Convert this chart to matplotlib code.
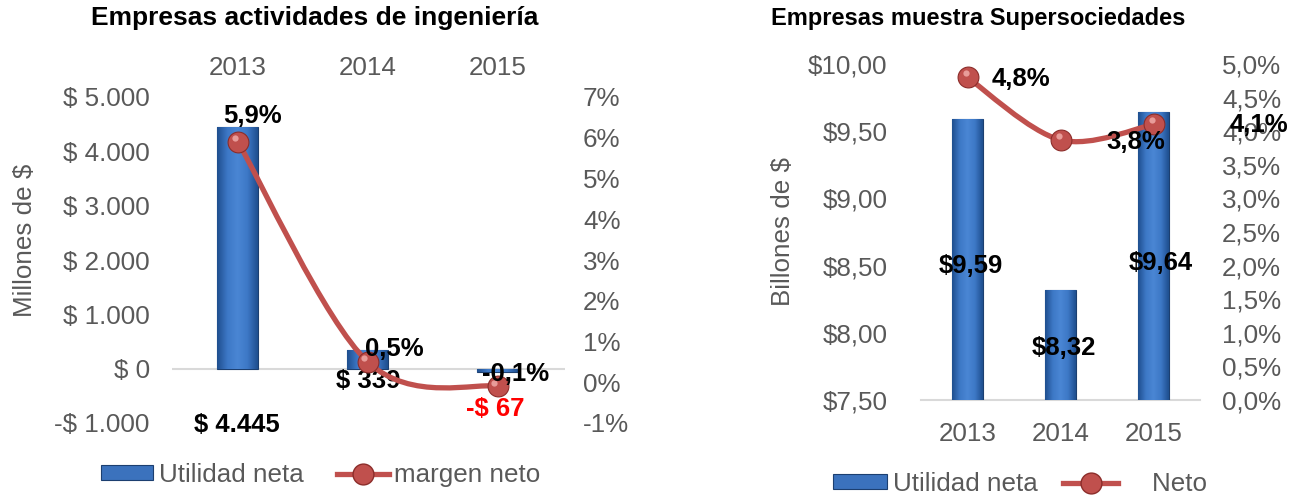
import numpy as np
import matplotlib
matplotlib.use("Agg")
import matplotlib.pyplot as plt
from matplotlib.path import Path
from matplotlib.patches import PathPatch, Rectangle
from matplotlib.lines import Line2D
from matplotlib.colors import LinearSegmentedColormap

plt.rcParams['font.family'] = ['Liberation Sans', 'DejaVu Sans']

# ---------------- data ----------------
years = ["2013", "2014", "2015"]
util_ing = [4445, 339, -67]             # millones de $
margen_ing = [5.9, 0.5, -0.1]            # %
util_ing_labels = ["$ 4.445", "$ 339", "-$ 67"]
margen_ing_labels = ["5,9%", "0,5%", "-0,1%"]

util_sup = [9.59, 8.32, 9.64]            # billones de $
neto_sup = [4.8, 3.87, 4.1]              # %
util_sup_labels = ["$9,59", "$8,32", "$9,64"]
neto_sup_labels = ["4,8%", "3,8%", "4,1%"]

left_ticks = [-1000, 0, 1000, 2000, 3000, 4000, 5000]
left_ticklabels = ["-$ 1.000", "$ 0", "$ 1.000", "$ 2.000", "$ 3.000", "$ 4.000", "$ 5.000"]
left_pct_ticks = [-1, 0, 1, 2, 3, 4, 5, 6, 7]
left_pct_labels = ["-1%", "0%", "1%", "2%", "3%", "4%", "5%", "6%", "7%"]

right_ticks = [7.5, 8.0, 8.5, 9.0, 9.5, 10.0]
right_ticklabels = ["$7,50", "$8,00", "$8,50", "$9,00", "$9,50", "$10,00"]
right_pct_ticks = [0, 0.5, 1, 1.5, 2, 2.5, 3, 3.5, 4, 4.5, 5]
right_pct_labels = ["0,0%", "0,5%", "1,0%", "1,5%", "2,0%", "2,5%", "3,0%", "3,5%", "4,0%", "4,5%", "5,0%"]

# ---------------- style ----------------
GRAY = "#595959"
BAR = "#3b72bd"
BAR_EDGE = "#1c3f70"
LINE = "#c0504d"
MK_EDGE = "#8c2d2a"
W, H = 1292, 495
TICK_FS = 18.7
LBL_FS = 18.5

cmap = LinearSegmentedColormap.from_list("bar", ["#1f4f8f", "#3d78c6", "#4a86d4", "#3d78c6", "#1f4f8f"])

fig = plt.figure(figsize=(W / 100, H / 100), dpi=100)


def px_axes(x0, y0, x1, y1):
    return [x0 / W, 1 - y1 / H, (x1 - x0) / W, (y1 - y0) / H]


def gradient_bars(ax, x, vals, width, base=0):
    bars = ax.bar(x, [v - base for v in vals], width=width, bottom=base, color=BAR,
                  edgecolor=BAR_EDGE, linewidth=0.8, zorder=2)
    grad = np.linspace(0, 1, 64).reshape(1, -1)
    xl, yl = ax.get_xlim(), ax.get_ylim()
    for b in bars:
        bx, by, bw, bh = b.get_x(), b.get_y(), b.get_width(), b.get_height()
        im = ax.imshow(grad, cmap=cmap, aspect="auto", extent=[bx, bx + bw, by, by + bh],
                       zorder=2.1, interpolation="bicubic")
        im.set_clip_path(b)
    ax.set_xlim(xl)
    ax.set_ylim(yl)
    return bars


def smooth_path(ax, xs, ys):
    # Catmull-Rom style bezier computed in display space
    pts = ax.transData.transform(np.column_stack([xs, ys]))
    n = len(pts)
    verts = [pts[0]]
    codes = [Path.MOVETO]
    for i in range(n - 1):
        p0 = pts[i - 1] if i > 0 else pts[i]
        p1, p2 = pts[i], pts[i + 1]
        p3 = pts[i + 2] if i + 2 < n else pts[i + 1]
        c1 = p1 + (p2 - p0) / 6.0
        c2 = p2 - (p3 - p1) / 6.0
        verts += [c1, c2, p2]
        codes += [Path.CURVE4] * 3
    verts = ax.transData.inverted().transform(np.array(verts))
    return Path(verts, codes)


def style_axes(ax):
    for s in ax.spines.values():
        s.set_visible(False)
    ax.tick_params(length=0, colors=GRAY, labelsize=TICK_FS)


x = np.arange(len(years))
lbl = dict(fontsize=LBL_FS, fontweight="bold", zorder=6)

# ================= LEFT PANEL =================
axL = fig.add_axes(px_axes(172, 97, 565, 423))
axL.set_xlim(-0.508, 2.52)
axL.set_ylim(-1000, 5000)
style_axes(axL)
axL.set_yticks(left_ticks)
axL.set_yticklabels(left_ticklabels)
axL.tick_params(axis="y", pad=16)
axL.xaxis.tick_top()
axL.set_xticks(x)
axL.set_xticklabels(years)
axL.tick_params(axis="x", pad=12.5)
axL.axhline(0, color="#d9d9d9", lw=1.5, zorder=1)
axL.set_ylabel("Millones de $", color=GRAY, fontsize=TICK_FS)
axL.yaxis.set_label_coords(-0.344, 0.561)
gradient_bars(axL, x, util_ing, 0.315)

axL2 = axL.twinx()
axL2.set_ylim(-1, 7)
style_axes(axL2)
axL2.set_yticks(left_pct_ticks)
axL2.set_yticklabels(left_pct_labels)
axL2.tick_params(axis="y", pad=13)
axL2.add_patch(PathPatch(smooth_path(axL2, x, margen_ing), fill=False, edgecolor=LINE,
                         lw=3.8, capstyle="round", zorder=3))
axL2.plot(x, margen_ing, ls="none", marker="o", ms=15, mfc=LINE, mec=MK_EDGE, mew=0.8, zorder=4)
axL2.plot(x - 0.025, [m + 0.09 for m in margen_ing], ls="none", marker="o", ms=4.5,
          mfc="#f3b0ad", mec="none", alpha=0.8, zorder=5)

axL2.annotate(margen_ing_labels[0], (x[0], margen_ing[0]), xytext=(15, 26), textcoords="offset pixels",
              ha="center", va="center", **lbl)
axL2.annotate(margen_ing_labels[1], (x[1], margen_ing[1]), xytext=(27, 13), textcoords="offset pixels",
              ha="center", va="center", **lbl)
axL2.annotate(margen_ing_labels[2], (x[2], margen_ing[2]), xytext=(18, 12), textcoords="offset pixels",
              ha="center", va="center", **lbl)
axL.annotate(util_ing_labels[0], (x[0], -1000), xytext=(-1, -2), textcoords="offset pixels",
             ha="center", va="center", **lbl)
axL.annotate(util_ing_labels[1], (x[1], 0), xytext=(0, -12), textcoords="offset pixels",
             ha="center", va="center", **lbl)
axL.annotate(util_ing_labels[2], (x[2], util_ing[2]), xytext=(-2, -37), textcoords="offset pixels",
             ha="center", va="center", color="#ff0000", **lbl)

fig.text(315 / W, 1 - 18 / H, "Empresas actividades de ingeniería", ha="center", va="center",
         fontsize=19, fontweight="bold")

# ================= RIGHT PANEL =================
axR = fig.add_axes(px_axes(921, 64, 1200, 400))
axR.set_xlim(-0.5, 2.5)
axR.set_ylim(7.5, 10.0)
style_axes(axR)
axR.set_yticks(right_ticks)
axR.set_yticklabels(right_ticklabels)
axR.tick_params(axis="y", pad=24)
axR.set_xticks(x)
axR.set_xticklabels(years)
axR.tick_params(axis="x", pad=16)
axR.axhline(7.5, color="#d9d9d9", lw=1.5, zorder=1, clip_on=False)
axR.set_ylabel("Billones de $", color=GRAY, fontsize=TICK_FS)
axR.yaxis.set_label_coords(-0.451, 0.5)
gradient_bars(axR, x, util_sup, 0.33, base=7.5)

axR2 = axR.twinx()
axR2.set_ylim(0, 5)
style_axes(axR2)
axR2.set_yticks(right_pct_ticks)
axR2.set_yticklabels(right_pct_labels)
axR2.tick_params(axis="y", pad=16)
axR2.add_patch(PathPatch(smooth_path(axR2, x, neto_sup), fill=False, edgecolor=LINE,
                         lw=3.8, capstyle="round", zorder=3))
axR2.plot(x, neto_sup, ls="none", marker="o", ms=15, mfc=LINE, mec=MK_EDGE, mew=0.8, zorder=4)
axR2.plot(x - 0.02, [m + 0.06 for m in neto_sup], ls="none", marker="o", ms=4.5,
          mfc="#f3b0ad", mec="none", alpha=0.8, zorder=5)

axR2.annotate(neto_sup_labels[0], (x[0], neto_sup[0]), xytext=(53, -2), textcoords="offset pixels",
              ha="center", va="center", **lbl)
axR2.annotate(neto_sup_labels[1], (x[1], neto_sup[1]), xytext=(75, -2), textcoords="offset pixels",
              ha="center", va="center", **lbl)
axR2.annotate(neto_sup_labels[2], (x[2], neto_sup[2]), xytext=(105, -1), textcoords="offset pixels",
              ha="center", va="center", **lbl)
label_y_sup = [8.50, 7.89, 8.52]
label_dx_sup = [3, 3, 7]
for i in range(3):
    axR.annotate(util_sup_labels[i], (x[i], label_y_sup[i]), xytext=(label_dx_sup[i], 0),
                 textcoords="offset pixels", ha="center", va="center", **lbl)

fig.text(978 / W, 1 - 18 / H, "Empresas muestra Supersociedades", ha="center", va="center",
         fontsize=17, fontweight="bold")

# ================= LEGENDS =================
def bar_handle():
    return Rectangle((0, 0), 1, 1, facecolor=BAR, edgecolor=BAR_EDGE, lw=0.8)


line_h = Line2D([], [], color=LINE, lw=3.8, marker="o", ms=15, mfc=LINE, mec=MK_EDGE)

fig.legend([bar_handle(), line_h], ["Utilidad neta", "margen neto"],
           loc="center", bbox_to_anchor=(321 / W, 1 - 475 / H), ncol=2, frameon=False,
           fontsize=TICK_FS, handlelength=2.0, handleheight=0.5, handletextpad=0.2,
           columnspacing=1.3, labelcolor=GRAY, borderpad=0.1)
fig.legend([bar_handle(), line_h], ["Utilidad neta", "    Neto"],
           loc="center", bbox_to_anchor=(1020 / W, 1 - 484 / H), ncol=2, frameon=False,
           fontsize=TICK_FS, handlelength=2.1, handleheight=0.5, handletextpad=0.2,
           columnspacing=1.0, labelcolor=GRAY, borderpad=0.1)

fig.savefig("out.png", dpi=100)
